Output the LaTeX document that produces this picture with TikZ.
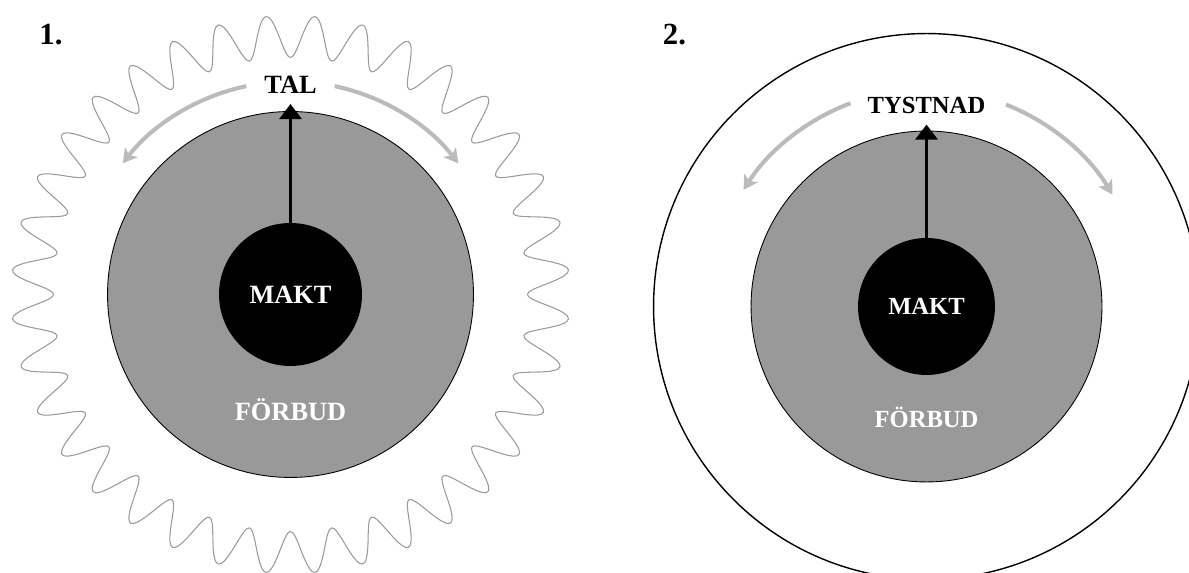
\documentclass[tikz,border=0pt]{standalone}
\usepackage{fontspec}
\setmainfont{Liberation Serif}
\usetikzlibrary{arrows.meta}
\definecolor{fbgray}{HTML}{999999}
\definecolor{pilgray}{HTML}{BBBBBB}
\definecolor{vaggray}{HTML}{9A9A9A}
\tikzset{mk/.append style={circle,fill=black,text=white,inner sep=0pt,font=\bfseries\fontsize{15}{15}\selectfont}}
\tikzset{fb/.append style={circle,draw=black,fill=fbgray,line width=0.5pt,inner sep=0pt}}
\tikzset{lb/.append style={inner sep=1pt,font=\bfseries\fontsize{15}{15}\selectfont}}
\tikzset{nr/.append style={inner sep=0pt,font=\bfseries\fontsize{17.5}{17.5}\selectfont}}
\tikzset{gp/.append style={draw=pilgray,line width=2.3pt,-{Stealth[length=8pt,width=9pt,inset=2pt]}}}
\tikzset{sp/.append style={line width=1.7pt,-{Triangle[length=8.5pt,width=12.5pt]}}}

\begin{document}
\begin{tikzpicture}[x=0.02cm,y=0.02cm]
                \useasboundingbox (0,0) rectangle (1189,573);
                \clip (0,0) rectangle (1189,573);
                % 1.
                \coordinate (c1) at (290.5,278.5);
                \draw[vaggray,line width=0.6pt,shift={(c1)}] plot[domain=0:360,samples=721] (\x:{258+21*cos(36*(\x-5))}) -- cycle;
                \node[fb,minimum size=7.32cm] (fb1) at (c1) {};
                \node[mk,minimum size=2.86cm] (mk1) at (c1) {MAKT};
                \node[lb,text=white] (fbt1) at (290.5,163) {FÖRBUD};
                \node[lb] (tal) at (290.5,488.5) {TAL};
                \node[nr] (n1) at (51,538.5) {1.};
                \coordinate (g1a) at ([shift={(102:213)}]c1);
                \coordinate (g1b) at ([shift={(78:213)}]c1);
                \draw[sp] (mk1.north) -- ([yshift=0.14cm]fb1.north);
                \draw[gp] (g1a) arc[start angle=102,end angle=142,radius=4.26cm];
                \draw[gp] (g1b) arc[start angle=78,end angle=38,radius=4.26cm];
                % 2.
                \coordinate (c2) at (926.5,266.5);
                \draw[line width=0.8pt] (c2) circle[radius=5.46cm];
                \node[fb,minimum size=7.02cm] (fb2) at (c2) {};
                \node[mk,minimum size=2.74cm,font=\bfseries\fontsize{14}{14}\selectfont] (mk2) at (c2) {MAKT};
                \node[lb,text=white,font=\bfseries\fontsize{14}{14}\selectfont] (fbt2) at (926.5,155.5) {FÖRBUD};
                \node[lb,font=\bfseries\fontsize{14}{14}\selectfont] (tyst) at (926.5,468) {TYSTNAD};
                \node[nr] (n2) at (674.5,538.5) {2.};
                \coordinate (g2a) at ([shift={(110.5:217)}]c2);
                \coordinate (g2b) at ([shift={(68.5:217)}]c2);
                \draw[sp] (mk2.north) -- ([yshift=0.12cm]fb2.north);
                \draw[gp] (g2a) arc[start angle=110.5,end angle=147.5,radius=4.34cm];
                \draw[gp] (g2b) arc[start angle=68.5,end angle=31,radius=4.34cm];
            \end{tikzpicture}
\end{document}
